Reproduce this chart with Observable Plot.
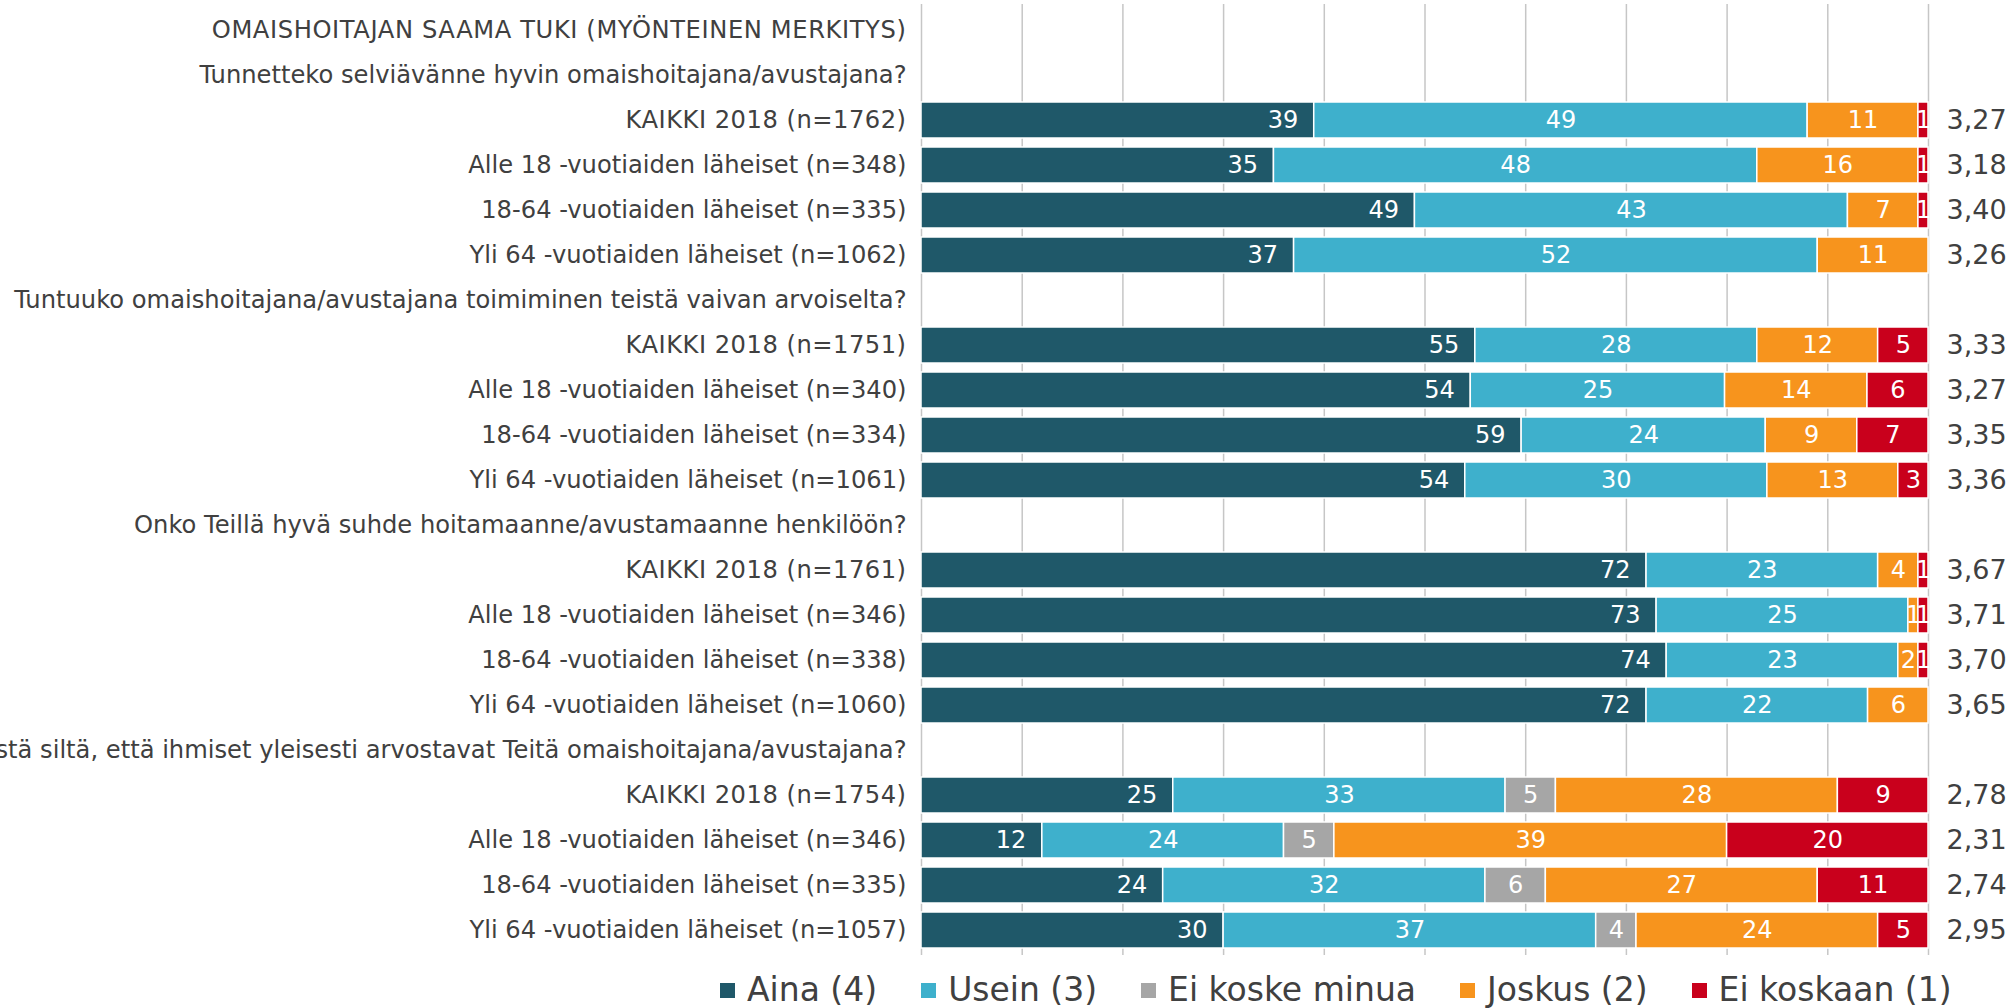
<!DOCTYPE html>
<html><head><meta charset="utf-8">
<script src="https://cdn.jsdelivr.net/npm/d3@7"></script>
<script src="https://cdn.jsdelivr.net/npm/@observablehq/plot@0.6"></script>
<style>
html,body{margin:0;padding:0;background:#fff;overflow:hidden;}
#wrap{position:relative;width:2012px;height:1008px;overflow:hidden;}
#chart{position:absolute;left:0;top:0;}
#legend{position:absolute;left:720px;top:973px;}
.lg-swatches{font-family:"DejaVu Sans",sans-serif !important;font-size:33px !important;line-height:34px !important;min-height:0 !important;color:#404040;margin:0 !important;}
.lg-swatch{margin-right:44px !important;}
.lg-swatch > svg{margin-right:12px !important;}
</style></head>
<body><div id="wrap"><div id="chart"></div><div id="legend"></div></div>
<script>
const title = "OMAISHOITAJAN SAAMA TUKI (MYÖNTEINEN MERKITYS)";
const questions = [
  "Tunnetteko selviävänne hyvin omaishoitajana/avustajana?",
  "Tuntuuko omaishoitajana/avustajana toimiminen teistä vaivan arvoiselta?",
  "Onko Teillä hyvä suhde hoitamaanne/avustamaanne henkilöön?",
  "Tuntuuko teistä siltä, että ihmiset yleisesti arvostavat Teitä omaishoitajana/avustajana?"
];
const groups = ["KAIKKI 2018", "Alle 18 -vuotiaiden läheiset", "18-64 -vuotiaiden läheiset", "Yli 64 -vuotiaiden läheiset"];
const nValues = [[1762, 348, 335, 1062], [1751, 340, 334, 1061], [1761, 346, 338, 1060], [1754, 346, 335, 1057]];
const categories = ["Aina (4)", "Usein (3)", "Ei koske minua", "Joskus (2)", "Ei koskaan (1)"];
const colors = ["#1f5869", "#3eb0cc", "#a6a6a6", "#f7941d", "#c9001c"];
const aina      = [[39, 35, 49, 37], [55, 54, 59, 54], [72, 73, 74, 72], [25, 12, 24, 30]];
const usein     = [[49, 48, 43, 52], [28, 25, 24, 30], [23, 25, 23, 22], [33, 24, 32, 37]];
const eiKoske   = [[0, 0, 0, 0], [0, 0, 0, 0], [0, 0, 0, 0], [5, 5, 6, 4]];
const joskus    = [[11, 16, 7, 11], [12, 14, 9, 13], [4, 1, 2, 6], [28, 39, 27, 24]];
const eiKoskaan = [[1, 1, 1, 0], [5, 6, 7, 3], [1, 1, 1, 0], [9, 20, 11, 5]];
const means     = [[3.27, 3.18, 3.40, 3.26], [3.33, 3.27, 3.35, 3.36], [3.67, 3.71, 3.70, 3.65], [2.78, 2.31, 2.74, 2.95]];

const rows = [{key: "t", label: title}];
questions.forEach((q, i) => {
  rows.push({key: `q${i}`, label: q});
  groups.forEach((g, j) => rows.push({key: `r${i}-${j}`, label: `${g} (n=${nValues[i][j]})`}));
});
const labelOf = new Map(rows.map(r => [r.key, r.label]));
const series = [aina, usein, eiKoske, joskus, eiKoskaan];
const segs = [];
const meanRows = [];
questions.forEach((q, i) => groups.forEach((g, j) => {
  categories.forEach((c, k) => {
    const v = series[k][i][j];
    if (v > 0) segs.push({row: `r${i}-${j}`, cat: c, value: v});
  });
  meanRows.push({row: `r${i}-${j}`, mean: means[i][j]});
}));

const chart = Plot.plot({
  width: 2012, height: 960,
  marginLeft: 921, marginRight: 84, marginTop: 4, marginBottom: 5,
  style: {fontFamily: "DejaVu Sans, sans-serif", fontSize: "24.2px", color: "#404040", background: "white", overflow: "visible"},
  x: {domain: [0, 1], axis: null},
  y: {domain: rows.map(r => r.key), paddingInner: 0.2, paddingOuter: 0.1, tickSize: 0, tickPadding: 15, tickFormat: k => labelOf.get(k), label: null},
  color: {domain: categories, range: colors},
  marks: [
    Plot.ruleX(d3.range(0, 11).map(i => i / 10), {stroke: "#c6c6c6", strokeWidth: 1.5}),
    Plot.barX(segs, Plot.stackX({x: "value", y: "row", fill: "cat", offset: "normalize", stroke: "white", strokeWidth: 1.5})),
    Plot.text(segs, Plot.stackX({x: "value", y: "row", z: "cat", offset: "normalize", text: d => d.cat === categories[0] ? "" : String(d.value), fill: "white", fontSize: 24})),
    Plot.text(segs, Plot.stackX2({x: "value", y: "row", z: "cat", offset: "normalize", text: d => d.cat === categories[0] ? String(d.value) : "", fill: "white", fontSize: 24, textAnchor: "end", dx: -16})),
    Plot.text(meanRows, {x: () => 1, y: "row", text: d => d.mean.toFixed(2).replace(".", ","), textAnchor: "start", dx: 18, fontSize: 27, fill: "#404040"})
  ]
});
// uppercase-heavy labels are a little wider in the reference font
d3.select(chart).selectAll("text").each(function() {
  const t = this.textContent;
  if (t === title) this.setAttribute("letter-spacing", "0.6");
  else if (t.startsWith("KAIKKI")) this.setAttribute("letter-spacing", "0.5");
});
document.getElementById("chart").append(chart);

const leg = Plot.legend({color: {type: "ordinal", domain: categories, range: colors}, legend: "swatches", swatchSize: 15, className: "lg"});
document.getElementById("legend").append(leg);
</script></body></html>
